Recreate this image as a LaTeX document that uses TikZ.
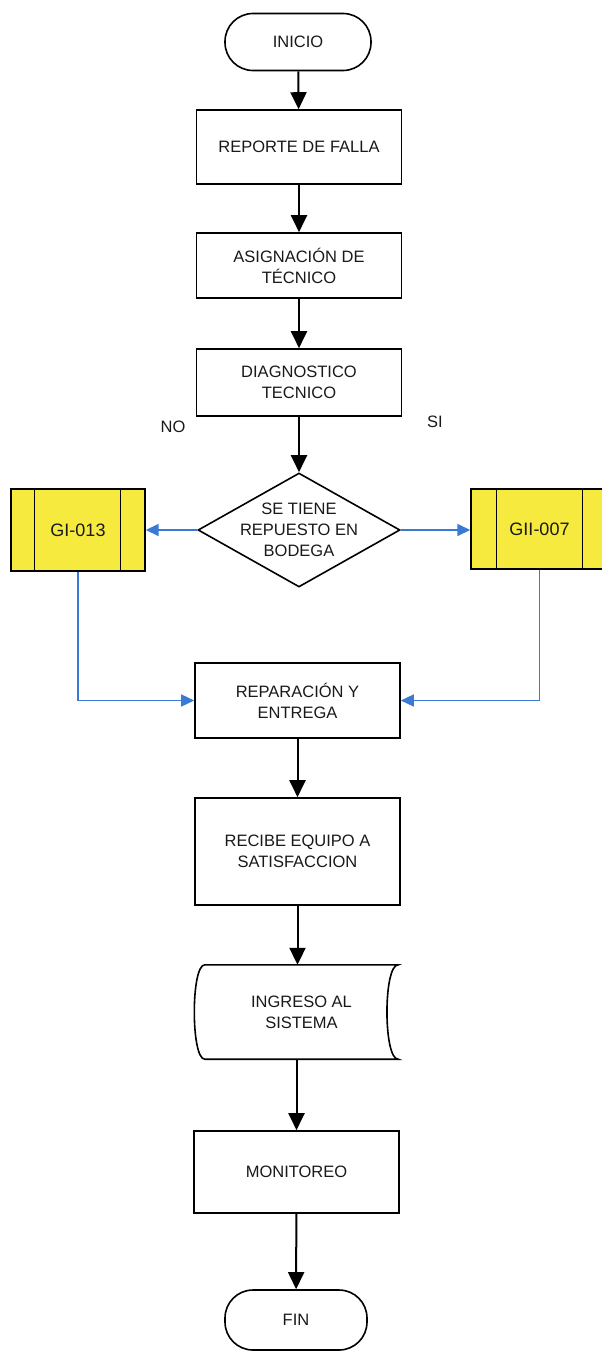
\documentclass[tikz,border=0pt]{standalone}
\usepackage{fontspec}
\setmainfont{Liberation Sans}
\usetikzlibrary{arrows.meta,shapes.geometric}
\definecolor{procyellow}{RGB}{246,234,62}
\definecolor{linkblue}{RGB}{58,122,212}
\tikzset{
  txt/.style={font=\fontsize{16.5}{21}\selectfont,align=center,text=black!90},
  term/.style={txt,draw,line width=1.6pt,rounded corners=28pt,minimum height=57pt,inner sep=0pt},
  proc/.style={txt,draw,line width=1.6pt,minimum width=205pt,inner sep=0pt},
  decision/.style={draw,line width=1.6pt,diamond,minimum width=202pt,minimum height=114pt,inner sep=0pt},
  subproc/.style={txt,font=\fontsize{18}{22}\selectfont,draw,line width=1.4pt,fill=procyellow,inner sep=0pt},
  flow/.style={-{Triangle[width=16pt,length=17pt]},draw=black,line width=2pt},
  link/.style={-{Triangle[width=12pt,length=13pt]},draw=linkblue,line width=1.5pt}
}
\begin{document}
\begin{tikzpicture}[x=1pt,y=-1pt]
    \useasboundingbox (0,0) rectangle (602,1357);

    \node[term,minimum width=146pt] (1) at (298,42) {INICIO};
    \node[proc,minimum height=74pt] (2) at (299,147) {REPORTE DE FALLA};
    \node[proc,minimum height=65pt] (3) at (299,265.5) {ASIGNACIÓN DE\\TÉCNICO};
    \node[proc,minimum height=67pt] (4) at (299,382.5) {DIAGNOSTICO\\TECNICO};

    \node[decision,label={[txt]center:SE TIENE\\REPUESTO EN\\BODEGA}] (5) at (299,530) {};
    \node[subproc,minimum width=134pt,minimum height=82pt] (6) at (78,530) {GI-013};
    \node[subproc,minimum width=137pt,minimum height=80pt] (7) at (539.5,529) {GII-007};

    \node[proc,minimum height=75pt] (8) at (297.5,700.5) {REPARACIÓN Y\\ENTREGA};
    \node[proc,minimum height=107pt] (9) at (297.5,851.5) {RECIBE EQUIPO A\\SATISFACCION};
    \node[txt,minimum width=193pt,minimum height=94pt,inner sep=0pt] (10) at (301.5,1012) {INGRESO AL\\SISTEMA};
    \node[proc,minimum height=82pt] (11) at (296.5,1172) {MONITOREO};
    \node[term,minimum width=142pt,minimum height=60pt] (12) at (296,1320) {FIN};

    \node[txt] at (173,427) {NO};
    \node[txt] at (435,422) {SI};

    % inner bars of the yellow boxes
    \draw[line width=1.4pt] ([xshift=24pt]6.north west) -- ([xshift=24pt]6.south west)
      ([xshift=-25pt]6.north east) -- ([xshift=-25pt]6.south east);
    \draw[line width=1.4pt] ([xshift=26pt]7.north west) -- ([xshift=26pt]7.south west)
      ([xshift=-26pt]7.north east) -- ([xshift=-26pt]7.south east);

    % stored data outline
    \draw[line width=1.6pt] (10.north west) -- (10.north east)
      .. controls ([xshift=-15pt]10.north east) and ([xshift=-15pt]10.south east) .. (10.south east)
      -- (10.south west)
      .. controls ([xshift=-14pt]10.south west) and ([xshift=-14pt]10.north west) .. cycle;

    \path
    (1) edge[flow] (2)
    (2) edge[flow] (3)
    (3) edge[flow] (4)
    (4) edge[flow] (5)
    (5.west) edge[link] (5.west -| 6.east)
    (5.east) edge[link] (5.east -| 7.west)
    (8) edge[flow] (9)
    (9.south) edge[flow] (9.south |- 10.north)
    (10.south -| 11.north) edge[flow] (11.north)
    (11) edge[flow] (12);

    \draw[link] (6.south) |- (8.west);
    \draw[link] (7.south) |- (8.east);
  \end{tikzpicture}
\end{document}
